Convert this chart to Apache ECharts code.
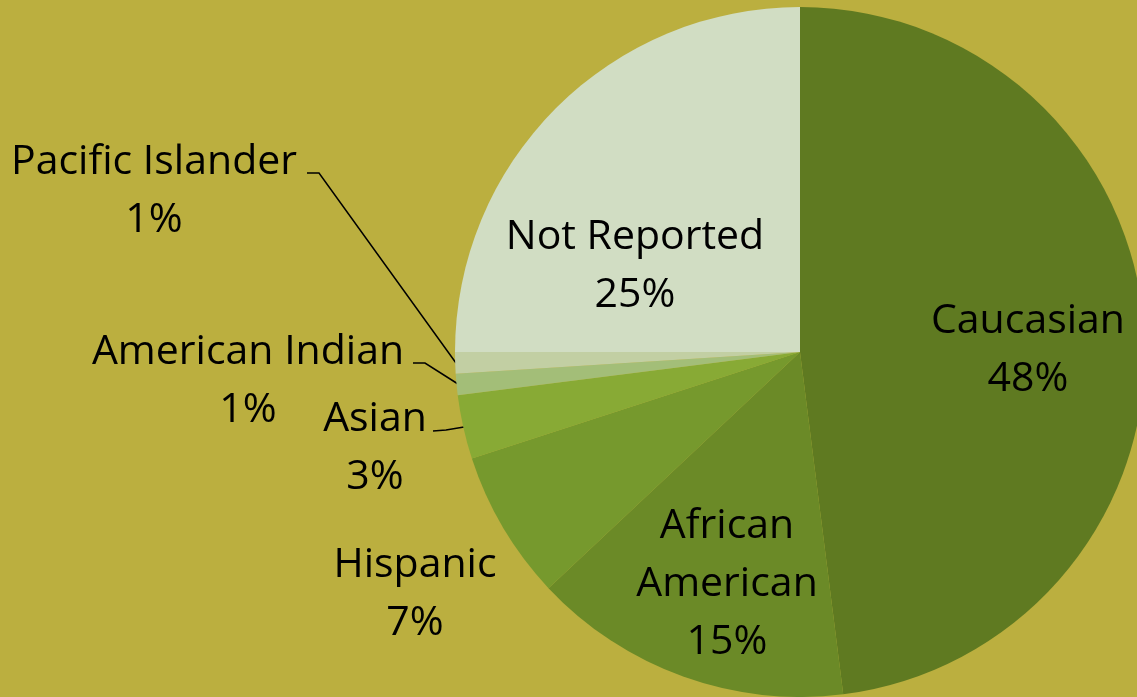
<!DOCTYPE html>
<html><head><meta charset="utf-8">
<script src="https://cdn.jsdelivr.net/npm/echarts@6/dist/echarts.min.js"></script>
<style>html,body{margin:0;padding:0;background:#BBAF3F;}#c{width:1137px;height:697px;}</style>
</head><body><div id="c"></div>
<script>
const categories = ['Caucasian','African American','Hispanic','Asian','American Indian','Pacific Islander','Not Reported'];
const labelTexts = ['Caucasian','African\nAmerican','Hispanic','Asian','American Indian','Pacific Islander','Not Reported'];
const values = [48, 15, 7, 3, 1, 1, 25];
const colors = ['#5F7A21','#6B8A27','#76992D','#88AA35','#A3BE78','#C2CFA3','#D1DDC3'];
// label anchor positions (layout only)
const labelPos = [[1028,350],[727,584],[415,594],[375,448],[248,381],[154,191],[635,266]];
const leaderLines = {
  3: [[433,431],[446,430],[464,427]],
  4: [[413,363],[425,363],[458,384]],
  5: [[307,173],[319,173],[456,363]]
};
const chart = echarts.init(document.getElementById('c'));
chart.setOption({
  backgroundColor: '#BBAF3F',
  animation: false,
  series: [{
    type: 'pie',
    center: [800, 352],
    radius: 345,
    startAngle: 90,
    clockwise: true,
    avoidLabelOverlap: false,
    data: categories.map((n, i) => ({name: n, value: values[i], itemStyle: {color: colors[i]},
      labelLine: {show: !!leaderLines[i]}})),
    label: {
      show: true,
      position: 'outside',
      formatter: p => labelTexts[p.dataIndex] + '\n' + Math.round(p.percent) + '%',
      fontFamily: 'Open Sans',
      fontSize: 41,
      lineHeight: 58,
      color: '#000',
      align: 'center'
    },
    labelLine: {show: true, lineStyle: {color: '#000', width: 1.5}},
    labelLayout: p => {
      const i = p.dataIndex;
      const r = {x: labelPos[i][0], y: labelPos[i][1], align: 'center', verticalAlign: 'middle'};
      if (leaderLines[i]) r.labelLinePoints = leaderLines[i];
      return r;
    },
    emphasis: {disabled: true}
  }]
});
</script></body></html>
